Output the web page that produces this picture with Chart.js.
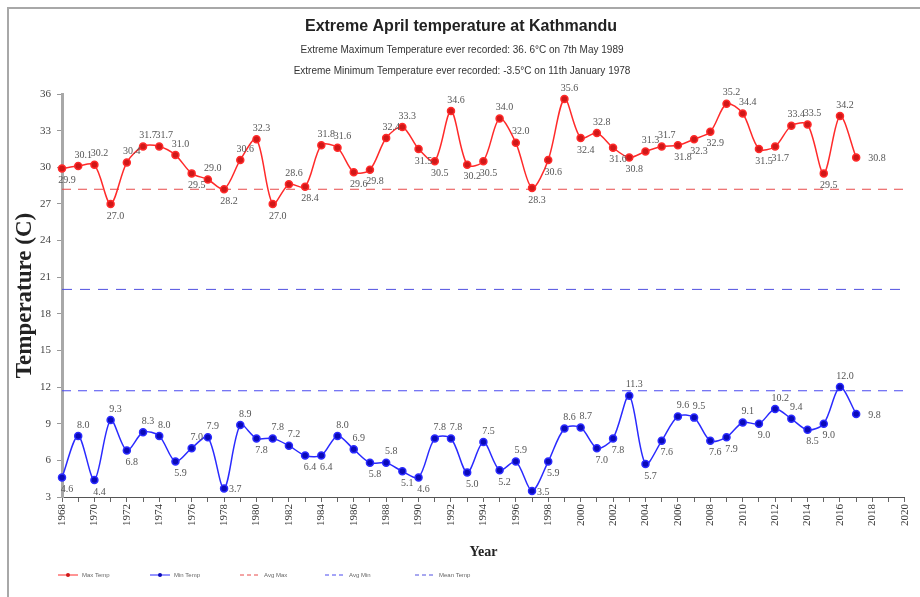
<!DOCTYPE html>
<html><head><meta charset="utf-8">
<script src="https://cdn.jsdelivr.net/npm/chart.js@4/dist/chart.umd.min.js"></script>
<style>
html,body{margin:0;padding:0;background:#fff;}
#wrap{position:relative;width:920px;height:597px;overflow:hidden;}
#frame{position:absolute;left:7px;top:7px;right:-4px;bottom:-4px;border-top:2px solid #a8a8a8;border-left:2px solid #a8a8a8;pointer-events:none;}
canvas{position:absolute;left:0;top:0;}
</style></head><body>
<div id="wrap"><canvas id="c" width="920" height="597"></canvas><div id="frame"></div></div>
<script>
const years = [1968,1969,1970,1971,1972,1973,1974,1975,1976,1977,1978,1979,1980,1981,1982,1983,1984,1985,1986,1987,1988,1989,1990,1991,1992,1993,1994,1995,1996,1997,1998,1999,2000,2001,2002,2003,2004,2005,2006,2007,2008,2009,2010,2011,2012,2013,2014,2015,2016,2017];
const maxTemp = [29.9,30.1,30.2,27.0,30.4,31.7,31.7,31.0,29.5,29.0,28.2,30.6,32.3,27.0,28.6,28.4,31.8,31.6,29.6,29.8,32.4,33.3,31.5,30.5,34.6,30.2,30.5,34.0,32.0,28.3,30.6,35.6,32.4,32.8,31.6,30.8,31.3,31.7,31.8,32.3,32.9,35.2,34.4,31.5,31.7,33.4,33.5,29.5,34.2,30.8];
const minTemp = [4.6,8.0,4.4,9.3,6.8,8.3,8.0,5.9,7.0,7.9,3.7,8.9,7.8,7.8,7.2,6.4,6.4,8.0,6.9,5.8,5.8,5.1,4.6,7.8,7.8,5.0,7.5,5.2,5.9,3.5,5.9,8.6,8.7,7.0,7.8,11.3,5.7,7.6,9.6,9.5,7.6,7.9,9.1,9.0,10.2,9.4,8.5,9.0,12.0,9.8];
const avgMax = 28.2;
const avgMin = 11.7;
const meanTemp = 20.0;
const seriesNames = ['Max Temp','Min Temp','Avg Max','Avg Min','Mean Temp'];
const xRange = [1968, 2020];
const yRange = [3, 36];
const yStep = 3;
const titleText = 'Extreme April temperature at Kathmandu';
const subtitleLines = ['Extreme Maximum Temperature ever recorded: 36. 6\u00B0C on 7th May 1989','Extreme Minimum Temperature ever recorded: -3.5\u00B0C on 11th January 1978'];
const xTitle = 'Year';
const yTitle = 'Temperature (C)';

const toPts = arr => years.map((yr,i)=>({x:yr,y:arr[i]}));
const flat = v => [{x:xRange[0],y:v},{x:xRange[1],y:v}];

const styles = [
  {color:'#ff2a2a', point:'#d01818', dash:[], marker:true},
  {color:'#2a2aff', point:'#0a0ab8', dash:[], marker:true},
  {color:'#e84a4a', dash:[9,7], marker:false},
  {color:'#4a4af0', dash:[9,7], marker:false},
  {color:'#5050e0', dash:[10,8], marker:false}
];

const headerPlugin = {
  id:'header',
  afterDraw(chart){
    const ctx = chart.ctx;
    ctx.save();
    ctx.textAlign='center'; ctx.textBaseline='middle';
    ctx.fillStyle='#222';
    ctx.font='bold 16px "Liberation Sans", Arial, sans-serif';
    ctx.fillText(titleText, 461, 27);
    ctx.font='10px "Liberation Sans", Arial, sans-serif';
    ctx.fillStyle='#333';
    ctx.fillText(subtitleLines[0], 462, 50);
    ctx.fillText(subtitleLines[1], 462, 71);
    const xs=[58,150,240,325,415];
    const ly=575;
    ctx.font='6px "Liberation Sans", Arial, sans-serif';
    ctx.textAlign='left';
    chart.data.datasets.forEach((ds,i)=>{
      const st=styles[i];
      ctx.strokeStyle=st.color; ctx.lineWidth=1;
      ctx.setLineDash(st.marker?[]:[4,3]);
      ctx.beginPath(); ctx.moveTo(xs[i],ly); ctx.lineTo(xs[i]+20,ly); ctx.stroke();
      ctx.setLineDash([]);
      if(st.marker){ ctx.fillStyle=st.point; ctx.beginPath(); ctx.arc(xs[i]+10,ly,2,0,Math.PI*2); ctx.fill(); }
      ctx.fillStyle='#666';
      ctx.fillText(ds.label, xs[i]+24, ly);
    });
    ctx.restore();
  }
};

const labelPlugin = {
  id:'pointLabels',
  afterDatasetsDraw(chart){
    const ctx=chart.ctx;
    const bottom=chart.chartArea.bottom;
    ctx.save();
    ctx.font='10px "Liberation Serif", "Times New Roman", serif';
    ctx.fillStyle='#555';
    ctx.textBaseline='middle';
    [0,1].forEach(di=>{
      const meta=chart.getDatasetMeta(di);
      const vals=chart.data.datasets[di].data;
      meta.data.forEach((pt,i)=>{
        const v=vals[i].y;
        const txt=v.toFixed(1);
        if(i===vals.length-1){ ctx.textAlign='left'; ctx.fillText(txt, pt.x+12, pt.y+1); return; }
        const prev=i>0?vals[i-1].y:v, next=vals[i+1].y;
        const above = v >= (prev+next)/2;
        if(!above && pt.y+12 > bottom-5){ ctx.textAlign='left'; ctx.fillText(txt, pt.x+5, pt.y+1); return; }
        ctx.textAlign='center';
        ctx.fillText(txt, pt.x+5, above ? pt.y-11 : pt.y+12);
      });
    });
    ctx.restore();
  }
};

new Chart(document.getElementById('c'), {
  type:'line',
  data:{
    datasets:[
      {label:seriesNames[0], data:toPts(maxTemp), borderColor:styles[0].color, backgroundColor:styles[0].point, pointBackgroundColor:styles[0].point, pointBorderColor:styles[0].color, pointRadius:3.5, borderWidth:1.5, tension:0.3, clip:false},
      {label:seriesNames[1], data:toPts(minTemp), borderColor:styles[1].color, backgroundColor:styles[1].point, pointBackgroundColor:styles[1].point, pointBorderColor:styles[1].color, pointRadius:3.5, borderWidth:1.5, tension:0.3, clip:false},
      {label:seriesNames[2], data:flat(avgMax), borderColor:styles[2].color, borderDash:styles[2].dash, borderWidth:1, pointRadius:0},
      {label:seriesNames[3], data:flat(avgMin), borderColor:styles[3].color, borderDash:styles[3].dash, borderWidth:1, pointRadius:0},
      {label:seriesNames[4], data:flat(meanTemp), borderColor:styles[4].color, borderDash:styles[4].dash, borderWidth:1, pointRadius:0}
    ]
  },
  options:{
    responsive:false, animation:false, devicePixelRatio:1,
    layout:{padding:{top:94,left:8,right:10,bottom:30}},
    plugins:{legend:{display:false}, title:{display:false}, tooltip:{enabled:false}},
    scales:{
      x:{type:'linear', min:xRange[0], max:xRange[1],
        afterFit(s){ s.height=70; },
        ticks:{stepSize:1, autoSkip:false, minRotation:90, maxRotation:90, padding:2, color:'#333',
          font:{family:'"Liberation Serif", "Times New Roman", serif', size:11},
          callback:v => (v%2===0 ? String(v) : '')},
        grid:{drawOnChartArea:false, tickLength:5, color:'#666'},
        border:{color:'#555', width:1},
        title:{display:true, text:xTitle, color:'#222', font:{family:'"Liberation Serif", "Times New Roman", serif', size:14, weight:'bold'}, padding:{top:2,bottom:6}}
      },
      y:{min:yRange[0], max:yRange[1],
        afterFit(s){ s.width=54; },
        ticks:{stepSize:yStep, padding:6, color:'#444', font:{family:'"Liberation Serif", "Times New Roman", serif', size:11}},
        grid:{drawOnChartArea:false, tickLength:5, color:'#999'},
        border:{color:'#a8a8a8', width:3},
        title:{display:true, text:yTitle, color:'#222', font:{family:'"Liberation Serif", "Times New Roman", serif', size:23, weight:'bold'}, padding:{top:3,bottom:3}}
      }
    }
  },
  plugins:[labelPlugin, headerPlugin]
});
</script>
</body></html>
